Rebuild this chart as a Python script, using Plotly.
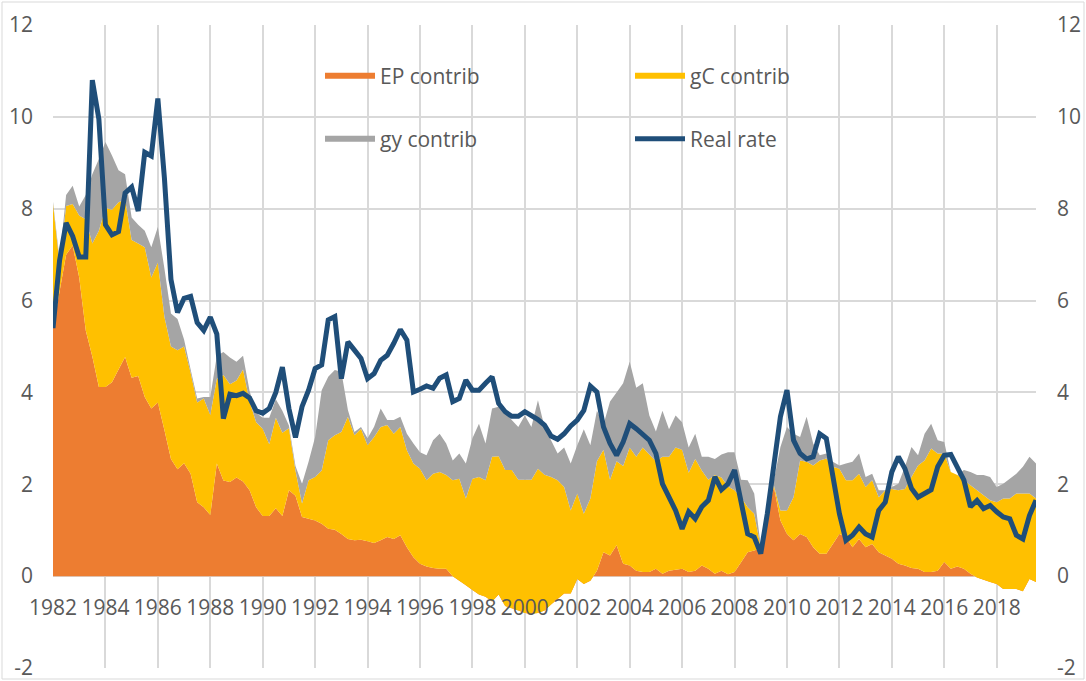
import plotly.graph_objects as go

# Quarterly data, 1982Q1 .. 2019Q3
ep_contrib = [
    5.4, 6.2, 7.0, 7.2, 6.5, 5.35, 4.78, 4.12,
    4.12, 4.22, 4.5, 4.77, 4.32, 4.36, 3.9, 3.65,
    3.78, 3.18, 2.55, 2.33, 2.46, 2.23, 1.61, 1.5,
    1.33, 2.45, 2.08, 2.05, 2.15, 2.06, 1.87, 1.5,
    1.31, 1.31, 1.48, 1.31, 1.87, 1.75, 1.29, 1.25,
    1.21, 1.14, 1.03, 1.01, 0.92, 0.81, 0.78, 0.79,
    0.76, 0.72, 0.78, 0.85, 0.81, 0.89, 0.63, 0.41,
    0.27, 0.21, 0.18, 0.16, 0.16, 0.0, -0.1, -0.2,
    -0.3, -0.4, -0.45, -0.55, -0.4, -0.65, -0.7, -0.75,
    -0.8, -0.82, -0.8, -0.75, -0.62, -0.5, -0.38, -0.38,
    -0.06, -0.17, -0.1, 0.12, 0.52, 0.45, 0.67, 0.27,
    0.23, 0.12, 0.09, 0.09, 0.16, 0.05, 0.12, 0.14,
    0.16, 0.09, 0.12, 0.23, 0.16, 0.05, 0.12, 0.04,
    0.09, 0.3, 0.52, 0.56, 0.6, 1.36, 1.94, 1.21,
    0.92, 0.78, 0.92, 0.85, 0.63, 0.49, 0.49, 0.7,
    0.92, 0.85, 0.63, 0.81, 0.63, 0.7, 0.52, 0.45,
    0.38, 0.27, 0.23, 0.18, 0.16, 0.09, 0.09, 0.12,
    0.31, 0.16, 0.21, 0.16, 0.05, -0.03, -0.08, -0.13,
    -0.17, -0.28, -0.28, -0.28, -0.33, -0.06, -0.13,
]

gc_contrib = [
    2.7, 0.6, 1.06, 0.9, 1.35, 2.42, 2.46, 3.4,
    3.9, 3.76, 3.64, 3.43, 3.0, 2.88, 3.26, 2.85,
    3.05, 2.47, 2.45, 2.59, 2.54, 2.2, 2.17, 2.37,
    2.18, 1.85, 2.3, 2.13, 2.11, 2.44, 1.93, 1.85,
    1.9, 1.56, 1.97, 1.81, 1.35, 0.55, 0.29, 0.84,
    0.95, 1.16, 1.93, 2.06, 2.22, 2.66, 2.29, 2.42,
    2.09, 2.31, 2.47, 2.44, 2.29, 2.36, 2.11, 2.04,
    2.07, 1.88, 2.05, 2.11, 2.04, 2.09, 2.22, 1.89,
    2.42, 2.56, 2.54, 3.15, 3.01, 2.96, 3.01, 2.85,
    2.9, 2.92, 3.14, 2.96, 2.78, 2.59, 2.32, 1.81,
    1.86, 1.53, 1.79, 2.38, 2.23, 1.65, 1.83, 2.13,
    2.57, 2.48, 2.71, 2.56, 2.34, 2.55, 2.48, 2.66,
    2.59, 2.16, 2.43, 2.07, 1.94, 2.15, 2.03, 1.91,
    1.78, 1.42, 0.98, 0.8, 0.02, 0.07, 0.04, 0.22,
    0.51, 0.94, 1.6, 1.64, 1.78, 2.03, 2.07, 1.68,
    1.42, 1.24, 1.46, 1.42, 1.31, 1.39, 1.2, 1.42,
    1.52, 1.6, 1.67, 1.98, 2.25, 2.43, 2.69, 2.55,
    2.36, 2.11, 1.99, 1.93, 1.93, 1.9, 1.84, 1.78,
    1.78, 1.97, 1.97, 2.08, 2.13, 1.86, 1.82,
]

gy_contrib = [
    0.05, 0.1, 0.24, 0.4, 0.2, 0.53, 1.51, 1.56,
    1.43, 1.18, 0.7, 0.55, 0.49, 0.41, 0.36, 0.66,
    0.77, 1.05, 0.72, 0.68, 0.15, 0.07, 0.09, 0.03,
    0.39, 0.5, 0.5, 0.58, 0.41, 0.3, 0.23, 0.21,
    0.24, 0.58, 0.4, 0.48, 0.06, 0.1, 0.43, 0.4,
    0.87, 1.75, 1.38, 1.42, 1.31, 0.15, 0.07, 0.04,
    0.15, 0.22, 0.4, 0.11, 0.3, 0.22, 0.36, 0.44,
    0.36, 0.54, 0.73, 0.83, 0.69, 0.43, 0.55, 0.76,
    0.88, 1.16, 0.8, 1.05, 1.08, 1.27, 1.09, 1.15,
    1.4, 1.15, 1.49, 1.04, 0.8, 0.58, 0.86, 1.02,
    1.05, 1.84, 1.16, 1.1, 0.55, 1.7, 1.5, 1.8,
    1.87, 1.5, 1.4, 0.85, 0.65, 1.0, 0.6, 0.7,
    0.6, 0.55, 0.55, 0.3, 0.5, 0.35, 0.5, 0.75,
    0.83, 0.38, 0.59, 0.44, 0.03, 0.07, 0.11, 1.38,
    1.82, 1.38, 0.51, 0.98, 0.48, 0.11, 0.11, 0.11,
    0.07, 0.36, 0.4, 0.44, 0.22, 0.14, 0.15, 0.0,
    0.04, 0.14, 0.48, 0.65, 0.22, 0.58, 0.54, 0.29,
    0.25, 0.0, 0.0, 0.22, 0.29, 0.33, 0.44, 0.51,
    0.33, 0.32, 0.43, 0.43, 0.58, 0.8, 0.76,
]

real_rate = [
    5.4, 6.87, 7.69, 7.4, 6.95, 6.95, 10.8, 9.95,
    7.65, 7.43, 7.5, 8.34, 8.47, 7.95, 9.23, 9.15,
    10.4, 8.67, 6.46, 5.74, 6.05, 6.09, 5.52, 5.35,
    5.64, 5.27, 3.43, 3.96, 3.93, 3.98, 3.88, 3.6,
    3.55, 3.65, 4.0, 4.55, 3.65, 3.02, 3.69, 4.05,
    4.52, 4.6, 5.58, 5.65, 4.3, 5.1, 4.92, 4.74,
    4.3, 4.41, 4.7, 4.81, 5.07, 5.37, 5.14, 4.01,
    4.07, 4.14, 4.09, 4.31, 4.38, 3.8, 3.87, 4.27,
    4.05, 4.05, 4.2, 4.34, 3.76, 3.58, 3.48, 3.48,
    3.58, 3.5, 3.41, 3.29, 3.05, 2.98, 3.1, 3.27,
    3.4, 3.61, 4.14, 4.01, 3.25, 2.89, 2.63, 2.92,
    3.32, 3.21, 3.1, 2.96, 2.67, 2.01, 1.72, 1.43,
    1.03, 1.4, 1.25, 1.51, 1.65, 2.16, 1.88, 2.01,
    2.31, 1.61, 0.92, 0.85, 0.49, 1.36, 2.38, 3.47,
    4.05, 2.96, 2.67, 2.55, 2.6, 3.1, 3.0, 2.16,
    1.36, 0.78, 0.89, 1.07, 0.92, 0.85, 1.43, 1.61,
    2.27, 2.6, 2.34, 1.91, 1.72, 1.8, 1.88, 2.38,
    2.63, 2.65, 2.38, 2.09, 1.51, 1.65, 1.47, 1.54,
    1.4, 1.29, 1.25, 0.89, 0.81, 1.32, 1.65,
]

# quarter positions (year + quarter fraction)
quarters = [1982 + q / 4 for q in range(len(real_rate))]

year_ticks = list(range(1982, 2019, 2))
year_labels = [str(y) for y in year_ticks]
y_ticks = [-2, 0, 2, 4, 6, 8, 10, 12]
y_labels = [str(v) for v in y_ticks]

FONT = "Open Sans"
FS = 21
TXT = "#595959"
GRID = "#D9D9D9"

fig = go.Figure()
fig.add_trace(go.Scatter(
    x=quarters, y=ep_contrib, name="EP contrib", stackgroup="one",
    mode="none", fillcolor="#ED7D31", legend="legend"))
fig.add_trace(go.Scatter(
    x=quarters, y=gc_contrib, name="gC contrib", stackgroup="one",
    mode="none", fillcolor="#FFC000", legend="legend"))
fig.add_trace(go.Scatter(
    x=quarters, y=gy_contrib, name="gy contrib", stackgroup="one",
    mode="none", fillcolor="#A5A5A5", legend="legend2"))
fig.add_trace(go.Scatter(
    x=quarters, y=real_rate, name="Real rate", mode="lines",
    line=dict(color="#1F4E79", width=5), yaxis="y2", legend="legend2"))

W, H = 1086, 681
L, R, T, B = 53, 50, 25, 13
pw, ph = W - L - R, H - T - B

def px_x(x):
    return (x - L) / pw

def px_y(y):
    return (H - B - y) / ph

legend_common = dict(
    orientation="h", xanchor="left", yanchor="middle",
    entrywidth=245, entrywidthmode="pixels", traceorder="normal",
    font=dict(family=FONT, size=FS, color=TXT),
    bgcolor="rgba(0,0,0,0)", itemwidth=50, itemclick=False,
)

fig.update_layout(
    width=W, height=H,
    margin=dict(l=L, r=R, t=T, b=B, autoexpand=False),
    paper_bgcolor="white", plot_bgcolor="white",
    font=dict(family=FONT, size=FS, color=TXT),
    showlegend=True,
    legend=dict(x=px_x(320), y=px_y(76), **legend_common),
    legend2=dict(x=px_x(320), y=px_y(139), **legend_common),
    xaxis=dict(
        range=[1982, 2019.5], tickvals=year_ticks, ticktext=year_labels,
        showgrid=True, gridcolor=GRID, gridwidth=2,
        showline=False, zeroline=False, ticks="", automargin=False,
        anchor="free", position=2 / 14, ticklabelstandoff=17,
        ticklabeloverflow="allow",
        tickfont=dict(family=FONT, size=FS, color=TXT),
    ),
    yaxis=dict(
        range=[-2, 12], tickvals=y_ticks, ticktext=y_labels,
        showgrid=True, gridcolor=GRID, gridwidth=2, automargin=False,
        zeroline=True, zerolinecolor=GRID, zerolinewidth=2,
        showline=False, ticks="", ticklabelstandoff=19,
        ticklabeloverflow="allow",
        tickfont=dict(family=FONT, size=FS, color=TXT),
    ),
    yaxis2=dict(
        range=[-2, 12], tickvals=y_ticks, ticktext=y_labels,
        overlaying="y", side="right", showgrid=False, zeroline=False,
        showline=False, ticks="", ticklabelstandoff=20, automargin=False,
        ticklabeloverflow="allow",
        tickfont=dict(family=FONT, size=FS, color=TXT),
    ),
    shapes=[dict(
        type="rect", xref="paper", yref="paper",
        x0=px_x(2), x1=px_x(1084), y0=px_y(679), y1=px_y(2),
        line=dict(color=GRID, width=1), fillcolor="rgba(0,0,0,0)", layer="below",
    )],
)

fig.write_html(
    "out.html",
    config={"displayModeBar": False},
    post_script="document.body.style.margin='0';document.body.style.padding='0';",
)
